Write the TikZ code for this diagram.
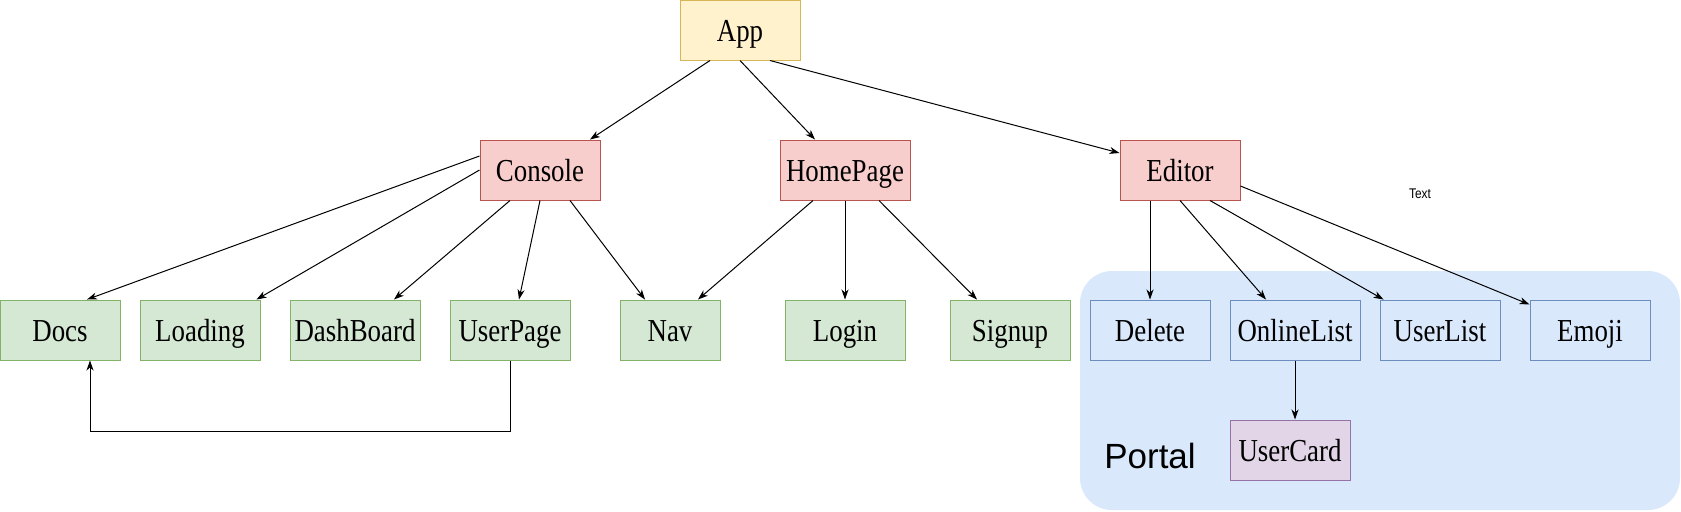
\documentclass[tikz,border=0pt]{standalone}
\usepackage{xcolor}
\usepackage{fontspec}
\setmainfont{Liberation Serif}
\newfontfamily\boxfont[FakeStretch=0.84]{Liberation Serif}
\newfontfamily\labelsans{Liberation Sans}
\newfontfamily\smallsans[FakeStretch=0.85]{Liberation Sans}
\usepackage{tikz}
\usetikzlibrary{arrows.meta, positioning, calc}

\definecolor{rootFill}{HTML}{FFF2CC}
\definecolor{rootLine}{HTML}{D6B656}
\definecolor{pageFill}{HTML}{F8CECC}
\definecolor{pageLine}{HTML}{B85450}
\definecolor{leafFill}{HTML}{D5E8D4}
\definecolor{leafLine}{HTML}{82B366}
\definecolor{portFill}{HTML}{DAE8FC}
\definecolor{portLine}{HTML}{6C8EBF}
\definecolor{cardFill}{HTML}{E1D5E7}
\definecolor{cardLine}{HTML}{9673A6}

\begin{document}
\begin{tikzpicture}[
  x=0.5pt, y=-0.5pt,
  comp/.style={draw=#1Line, fill=#1Fill, line width=0.5pt, minimum width=60pt, minimum height=30pt,
    inner sep=0pt, text height=11pt, text depth=0pt, font=\boxfont\fontsize{16}{18}\selectfont},
  comp/.default=leaf,
  wide/.style={minimum width=65pt},
  arr/.style={-{Stealth[length=5pt, width=3.5pt, inset=1.5pt]}, line width=0.5pt},
]
  \useasboundingbox (0,0) rectangle (1681,511);

  % portal area
  \fill[portFill, rounded corners=16pt] (1080,271) rectangle (1680,510);
  \node[font=\labelsans\fontsize{17.5}{20}\selectfont] (portal) at (1150,456) {Portal};
  \node[font=\smallsans\fontsize{7}{8}\selectfont] (txt) at (1420,194) {Text};

  % top levels
  \node[comp=root] (app) at (740,30) {App};
  \node[comp=page] (console) at (540,170) {Console};
  \node[comp=page, wide] (home) at (845,170) {HomePage};
  \node[comp=page] (editor) at (1180,170) {Editor};

  % leaves
  \node[comp] (docs)      at (60,330)   {Docs};
  \node[comp] (loading)   at (200,330)  {Loading};
  \node[comp, wide] (dash) at (355,330) {DashBoard};
  \node[comp] (userpage)  at (510,330)  {UserPage};
  \node[comp, minimum width=50pt] (nav) at (670,330) {Nav};
  \node[comp] (login)     at (845,330)  {Login};
  \node[comp] (signup)    at (1010,330) {Signup};
  \node[comp=port] (delete)   at (1150,330) {Delete};
  \node[comp=port, wide] (online) at (1295,330) {OnlineList};
  \node[comp=port] (userlist) at (1440,330) {UserList};
  \node[comp=port] (emoji)    at (1590,330) {Emoji};
  \node[comp=card] (card)     at (1290,450) {UserCard};

  \draw[arr] ([xshift=-15pt]app.south) -- ([xshift=25pt]console.north);
  \draw[arr] (app.south) -- ([xshift=-15pt]home.north);
  \draw[arr] ([xshift=15pt]app.south) -- ([yshift=8.5pt]editor.west);

  \draw[arr] ([yshift=7pt]console.west) -- ([xshift=13.5pt]docs.north);
  \draw[arr] (console.west) -- ([xshift=-2pt]loading.north east);
  \draw[arr] ([xshift=-15pt]console.south) -- ([xshift=19.5pt]dash.north);
  \draw[arr] (console.south) -- ([xshift=4.5pt]userpage.north);
  \draw[arr] ([xshift=15pt]console.south) -- ([xshift=-12.5pt]nav.north);

  \draw[arr] ([xshift=-16pt]home.south) -- ([xshift=14pt]nav.north);
  \draw[arr] (home.south) -- (login.north);
  \draw[arr] ([xshift=17pt]home.south) -- ([xshift=-16.5pt]signup.north);

  \draw[arr] ([xshift=-15pt]editor.south) -- (delete.north);
  \draw[arr] (editor.south) -- ([xshift=-14.5pt]online.north);
  \draw[arr] ([xshift=15pt]editor.south) -- ([xshift=2pt]userlist.north west);
  \draw[arr] ([yshift=-8pt]editor.east) -- ([yshift=-2.5pt]emoji.north west);

  \draw[arr] (online.south) -- (online.south |- card.north);

  \coordinate (loop) at (510,431);
  \draw[arr] (userpage.south) -- (loop) -| ([xshift=15pt]docs.south);
\end{tikzpicture}
\end{document}
